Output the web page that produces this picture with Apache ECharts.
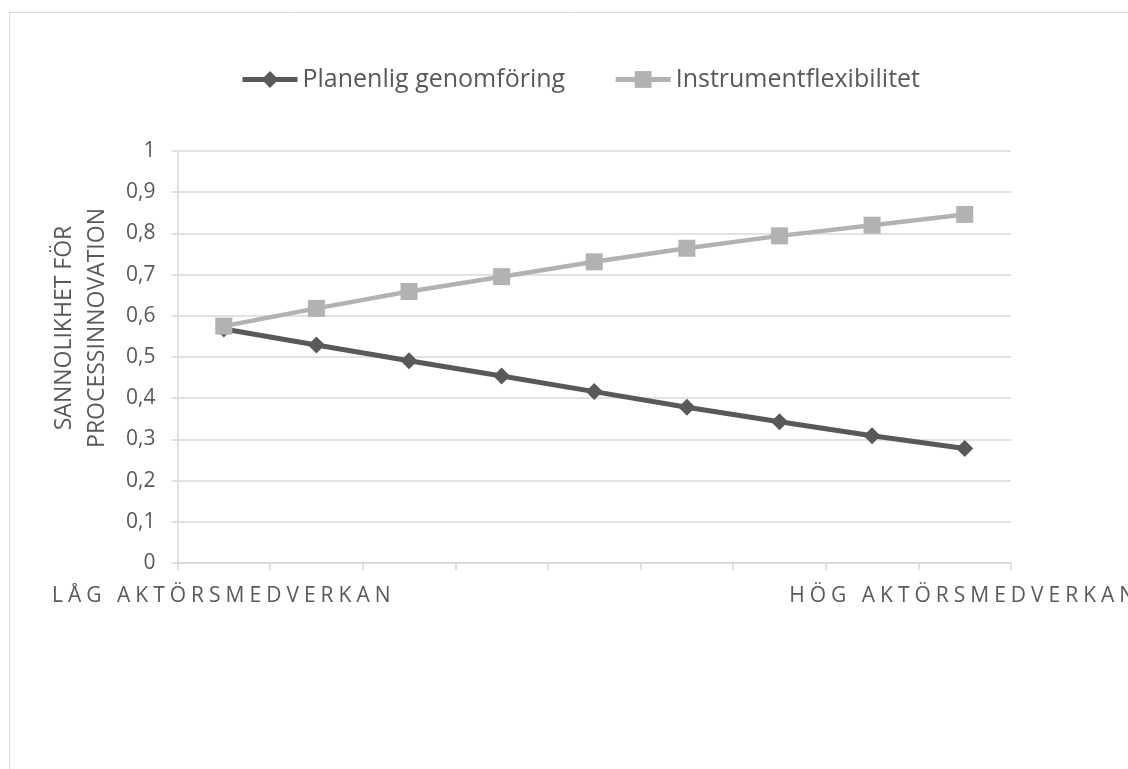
<!DOCTYPE html>
<html>
<head>
<meta charset="utf-8">
<title>Sannolikhet för processinnovation</title>
<script src="https://cdn.jsdelivr.net/npm/echarts@6/dist/echarts.min.js"></script>
<style>
  html, body { margin: 0; padding: 0; background: #fff; }
  #chart { width: 1128px; height: 769px; }
</style>
</head>
<body>
<div id="chart"></div>
<script>
// category captions, only the two ends are labelled
var xLabels = ['LÅG AKTÖRSMEDVERKAN', '', '', '', '', '', '', '', 'HÖG AKTÖRSMEDVERKAN'];

var planenlig = [0.568, 0.529, 0.491, 0.454, 0.416, 0.378, 0.343, 0.309, 0.278];
var flexibilitet = [0.575, 0.618, 0.659, 0.695, 0.731, 0.764, 0.794, 0.820, 0.846];

var yTitle = 'SANNOLIKHET FÖR\nPROCESSINNOVATION';

var dark = '#595959';
var light = '#b2b2b2';
var gridGray = '#d9d9d9';
var font = '"Open Sans", sans-serif';

// the end captions are letter-spaced in the original; canvas can do that per call
var baseFillText = CanvasRenderingContext2D.prototype.fillText;
CanvasRenderingContext2D.prototype.fillText = function (text) {
    if (text && xLabels.indexOf(text) >= 0) {
        this.save();
        this.letterSpacing = '5px';
        baseFillText.apply(this, arguments);
        this.restore();
        return;
    }
    return baseFillText.apply(this, arguments);
};

var option = {
    backgroundColor: '#fff',
    animation: false,
    textStyle: { fontFamily: font },
    graphic: [
        {
            // chart area frame, runs off the right and bottom edge
            type: 'rect',
            shape: { x: 9.5, y: 12.5, width: 1400, height: 1000 },
            style: { fill: 'none', stroke: gridGray, lineWidth: 1 },
            silent: true
        },
        {
            type: 'text',
            x: 81,
            y: 328,
            rotation: Math.PI / 2,
            style: {
                text: yTitle,
                fontFamily: font,
                fontSize: 23,
                lineHeight: 33,
                fill: dark,
                align: 'center',
                verticalAlign: 'middle'
            }
        }
    ],
    legend: {
        left: 240,
        top: 67,
        padding: 0,
        itemWidth: 55,
        itemHeight: 21,
        itemGap: 48,
        lineStyle: { width: 5 },
        textStyle: { fontFamily: font, fontSize: 25, color: dark },
        data: ['Planenlig genomföring', 'Instrumentflexibilitet']
    },
    grid: {
        left: 177.5,
        right: 117,
        top: 151,
        bottom: 206,
        containLabel: false
    },
    xAxis: {
        type: 'category',
        data: xLabels,
        boundaryGap: true,
        axisLine: { lineStyle: { color: gridGray, width: 1.5 } },
        axisTick: { show: true, length: 7, alignWithLabel: false, lineStyle: { color: gridGray, width: 1.5 } },
        axisLabel: {
            interval: 0,
            margin: 23,
            fontFamily: font,
            fontSize: 21,
            color: dark
        },
        splitLine: { show: false }
    },
    yAxis: {
        type: 'value',
        min: 0,
        max: 1,
        interval: 0.1,
        axisLine: { show: true, lineStyle: { color: gridGray, width: 1.5 } },
        axisTick: { show: true, length: 6, lineStyle: { color: gridGray, width: 1.5 } },
        axisLabel: {
            margin: 22,
            fontFamily: font,
            fontSize: 21,
            color: dark,
            formatter: function (v) {
                return String(Math.round(v * 10) / 10).replace('.', ',');
            }
        },
        splitLine: { lineStyle: { color: gridGray, width: 1.5 } }
    },
    series: [
        {
            name: 'Planenlig genomföring',
            type: 'line',
            data: planenlig,
            symbol: 'diamond',
            symbolSize: 17,
            color: dark,
            lineStyle: { color: dark, width: 5 },
            itemStyle: { color: dark }
        },
        {
            name: 'Instrumentflexibilitet',
            type: 'line',
            data: flexibilitet,
            symbol: 'rect',
            symbolSize: 17,
            color: light,
            lineStyle: { color: light, width: 4.5 },
            itemStyle: { color: light }
        }
    ]
};

var chart = echarts.init(document.getElementById('chart'), null, { renderer: 'canvas' });
chart.setOption(option);
</script>
</body>
</html>
